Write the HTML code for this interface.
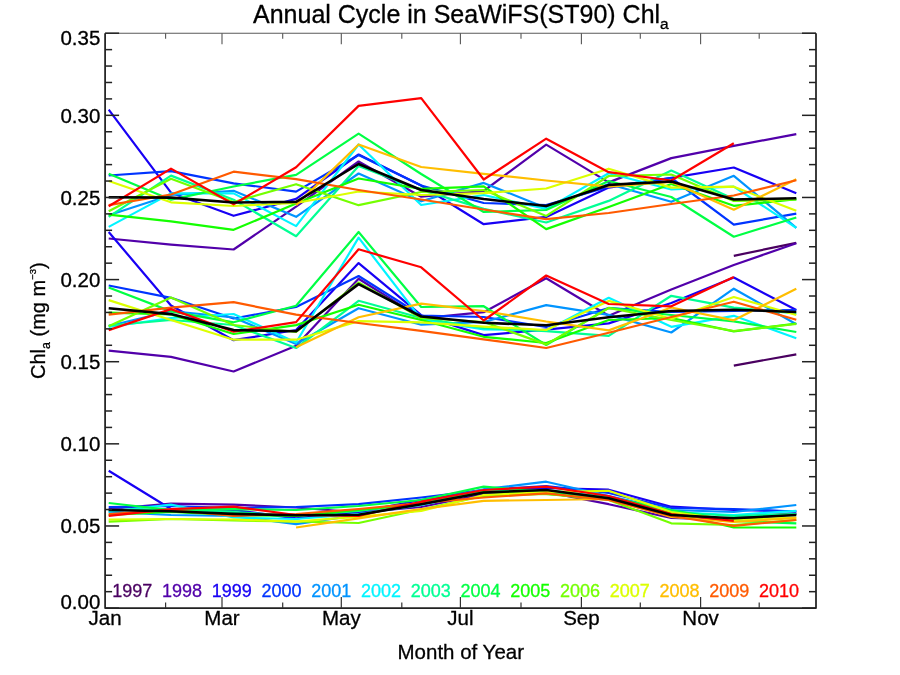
<!DOCTYPE html>
<html><head><meta charset="utf-8"><title>Annual Cycle in SeaWiFS(ST90) Chla</title>
<style>html,body{margin:0;padding:0;background:#fff;}svg{display:block;}</style></head>
<body>
<svg width="900" height="675" viewBox="0 0 900 675">
<rect width="900" height="675" fill="#fff"/>
<g fill="none" stroke-linejoin="round" stroke-linecap="butt">
<polyline points="733.8,255.8 796.3,242.8" stroke="#4a0060" stroke-width="2.2"/>
<polyline points="108.7,238.5 171.0,244.6 233.6,249.5 296.1,206.7 358.6,161.5 421.2,196.7 483.7,191.0 546.2,144.6 608.7,182.4 671.3,158.1 733.8,145.8 796.3,134.2" stroke="#5200aa" stroke-width="2.2"/>
<polyline points="108.7,109.6 171.0,192.7 233.6,215.8 296.1,198.9 358.6,154.5 421.2,185.5 483.7,224.2 546.2,216.9 608.7,187.6 671.3,177.8 733.8,167.5 796.3,193.3" stroke="#1800f4" stroke-width="2.2"/>
<polyline points="108.7,175.5 171.0,171.2 233.6,183.3 296.1,191.6 358.6,155.0 421.2,185.5 483.7,203.0 546.2,205.0 608.7,186.7 671.3,178.0 733.8,224.7 796.3,213.7" stroke="#0034ff" stroke-width="2.2"/>
<polyline points="108.7,215.2 171.0,195.0 233.6,190.8 296.1,216.8 358.6,173.5 421.2,201.3 483.7,182.9 546.2,208.0 608.7,184.0 671.3,201.8 733.8,175.8 796.3,227.8" stroke="#0094ff" stroke-width="2.2"/>
<polyline points="108.7,226.9 171.0,193.4 233.6,193.4 296.1,226.1 358.6,144.5 421.2,205.0 483.7,195.0 546.2,208.9 608.7,173.3 671.3,189.5 733.8,186.7 796.3,227.8" stroke="#00f4ff" stroke-width="2.2"/>
<polyline points="108.7,216.8 171.0,175.6 233.6,199.7 296.1,236.2 358.6,166.0 421.2,190.0 483.7,208.9 546.2,222.5 608.7,200.9 671.3,170.5 733.8,199.0 796.3,199.5" stroke="#00ff94" stroke-width="2.2"/>
<polyline points="108.7,173.7 171.0,199.7 233.6,186.5 296.1,174.9 358.6,133.6 421.2,174.0 483.7,212.0 546.2,210.0 608.7,181.0 671.3,197.0 733.8,236.7 796.3,217.5" stroke="#00ff44" stroke-width="2.2"/>
<polyline points="108.7,214.7 171.0,221.4 233.6,229.8 296.1,203.5 358.6,178.5 421.2,188.9 483.7,186.3 546.2,229.1 608.7,207.0 671.3,184.0 733.8,205.8 796.3,199.2" stroke="#14ff00" stroke-width="2.2"/>
<polyline points="108.7,211.3 171.0,178.7 233.6,202.0 296.1,184.2 358.6,205.2 421.2,192.0 483.7,190.0 546.2,215.9 608.7,176.0 671.3,174.5 733.8,201.0 796.3,199.5" stroke="#74ff00" stroke-width="2.2"/>
<polyline points="108.7,181.0 171.0,202.3 233.6,206.0 296.1,203.0 358.6,191.5 421.2,195.0 483.7,193.2 546.2,188.5 608.7,168.7 671.3,187.6 733.8,186.7 796.3,210.8" stroke="#dcff00" stroke-width="2.2"/>
<polyline points="296.1,205.1 358.6,144.5 421.2,167.0 483.7,173.9 546.2,180.5 608.7,186.7 671.3,182.0 733.8,209.7 796.3,179.2" stroke="#ffbe00" stroke-width="2.2"/>
<polyline points="108.7,205.1 171.0,194.5 233.6,171.7 296.1,179.2 358.6,190.0 421.2,199.5 483.7,209.5 546.2,219.2 608.7,213.0 671.3,204.0 733.8,195.5 796.3,180.3" stroke="#ff5a00" stroke-width="2.2"/>
<polyline points="108.7,206.3 171.0,168.6 233.6,204.3 296.1,167.2 358.6,105.9 421.2,98.1 483.7,179.5 546.2,138.7 608.7,172.2 671.3,180.5 733.8,143.3" stroke="#ff0000" stroke-width="2.2"/>
<polyline points="108.7,197.3 171.0,197.6 233.6,202.5 296.1,201.9 358.6,164.0 421.2,190.0 483.7,199.0 546.2,206.0 608.7,184.9 671.3,181.5 733.8,199.5 796.3,198.3" stroke="#000000" stroke-width="2.6"/>
<polyline points="733.8,365.6 796.3,354.3" stroke="#4a0060" stroke-width="2.2"/>
<polyline points="108.7,350.6 171.0,356.9 233.6,371.5 296.1,345.7 358.6,278.7 421.2,318.3 483.7,312.2 546.2,278.2 608.7,315.7 671.3,289.5 733.8,265.0 796.3,243.3" stroke="#5200aa" stroke-width="2.2"/>
<polyline points="108.7,232.0 171.0,305.5 233.6,340.2 296.1,330.0 358.6,263.1 421.2,315.2 483.7,335.1 546.2,329.6 608.7,323.4 671.3,303.0 733.8,277.5 796.3,310.0" stroke="#1800f4" stroke-width="2.2"/>
<polyline points="108.7,285.5 171.0,297.8 233.6,318.5 296.1,307.0 358.6,276.0 421.2,315.5 483.7,317.0 546.2,327.0 608.7,308.0 671.3,312.0 733.8,310.8 796.3,310.0" stroke="#0034ff" stroke-width="2.2"/>
<polyline points="108.7,326.0 171.0,311.0 233.6,317.5 296.1,344.0 358.6,308.2 421.2,324.7 483.7,322.0 546.2,305.1 608.7,314.9 671.3,332.5 733.8,288.7 796.3,324.2" stroke="#0094ff" stroke-width="2.2"/>
<polyline points="108.7,327.0 171.0,318.0 233.6,314.0 296.1,342.5 358.6,237.6 421.2,319.2 483.7,329.3 546.2,330.4 608.7,297.8 671.3,326.8 733.8,315.8 796.3,338.3" stroke="#00f4ff" stroke-width="2.2"/>
<polyline points="108.7,325.5 171.0,320.0 233.6,325.0 296.1,348.0 358.6,300.8 421.2,318.0 483.7,328.0 546.2,331.2 608.7,335.9 671.3,295.8 733.8,307.6 796.3,313.5" stroke="#00ff94" stroke-width="2.2"/>
<polyline points="108.7,287.5 171.0,311.4 233.6,322.3 296.1,305.8 358.6,232.0 421.2,307.0 483.7,306.2 546.2,345.0 608.7,307.9 671.3,315.0 733.8,321.3 796.3,332.0" stroke="#00ff44" stroke-width="2.2"/>
<polyline points="108.7,312.7 171.0,314.5 233.6,334.0 296.1,325.1 358.6,304.7 421.2,320.0 483.7,336.8 546.2,343.0 608.7,320.0 671.3,318.0 733.8,331.3 796.3,323.5" stroke="#14ff00" stroke-width="2.2"/>
<polyline points="108.7,326.2 171.0,297.4 233.6,325.0 296.1,332.0 358.6,282.5 421.2,318.0 483.7,322.0 546.2,344.4 608.7,308.0 671.3,320.0 733.8,331.0 796.3,324.0" stroke="#74ff00" stroke-width="2.2"/>
<polyline points="108.7,300.1 171.0,320.0 233.6,339.7 296.1,339.7 358.6,321.1 421.2,322.3 483.7,326.6 546.2,330.0 608.7,300.9 671.3,318.8 733.8,297.0 796.3,315.0" stroke="#dcff00" stroke-width="2.2"/>
<polyline points="296.1,347.2 358.6,317.2 421.2,303.6 483.7,311.0 546.2,321.5 608.7,330.4 671.3,307.5 733.8,320.3 796.3,288.7" stroke="#ffbe00" stroke-width="2.2"/>
<polyline points="108.7,314.6 171.0,307.6 233.6,302.2 296.1,314.7 358.6,323.0 421.2,330.9 483.7,339.3 546.2,348.0 608.7,332.8 671.3,317.0 733.8,301.7 796.3,319.7" stroke="#ff5a00" stroke-width="2.2"/>
<polyline points="108.7,330.1 171.0,309.1 233.6,331.7 296.1,322.1 358.6,249.3 421.2,267.3 483.7,320.5 546.2,275.5 608.7,304.0 671.3,306.3 733.8,277.0" stroke="#ff0000" stroke-width="2.2"/>
<polyline points="108.7,308.3 171.0,314.1 233.6,330.1 296.1,331.2 358.6,284.1 421.2,316.5 483.7,322.8 546.2,325.3 608.7,317.2 671.3,311.0 733.8,309.7 796.3,312.0" stroke="#000000" stroke-width="2.6"/>
<polyline points="733.8,516.7 796.3,513.7" stroke="#4a0060" stroke-width="2.2"/>
<polyline points="108.7,509.0 171.0,503.6 233.6,504.6 296.1,507.5 358.6,512.5 421.2,507.0 483.7,494.0 546.2,492.0 608.7,504.2 671.3,518.0 733.8,520.0 796.3,514.0" stroke="#5200aa" stroke-width="2.2"/>
<polyline points="108.7,470.8 171.0,509.0 233.6,510.0 296.1,518.3 358.6,512.0 421.2,500.0 483.7,490.0 546.2,488.0 608.7,489.7 671.3,506.7 733.8,510.0 796.3,511.5" stroke="#1800f4" stroke-width="2.2"/>
<polyline points="108.7,507.2 171.0,506.0 233.6,508.0 296.1,507.0 358.6,504.2 421.2,497.5 483.7,490.0 546.2,486.0 608.7,493.0 671.3,508.0 733.8,509.0 796.3,511.5" stroke="#0034ff" stroke-width="2.2"/>
<polyline points="108.7,512.0 171.0,515.0 233.6,516.0 296.1,524.2 358.6,515.0 421.2,503.0 483.7,489.2 546.2,481.7 608.7,496.0 671.3,510.0 733.8,512.0 796.3,505.0" stroke="#0094ff" stroke-width="2.2"/>
<polyline points="108.7,511.7 171.0,504.7 233.6,517.5 296.1,519.0 358.6,514.0 421.2,505.0 483.7,492.0 546.2,490.0 608.7,497.0 671.3,512.0 733.8,515.0 796.3,510.8" stroke="#00f4ff" stroke-width="2.2"/>
<polyline points="108.7,510.0 171.0,509.0 233.6,512.0 296.1,516.0 358.6,511.0 421.2,503.0 483.7,491.0 546.2,491.0 608.7,498.0 671.3,512.0 733.8,516.0 796.3,514.0" stroke="#00ff94" stroke-width="2.2"/>
<polyline points="108.7,503.0 171.0,510.0 233.6,509.2 296.1,510.0 358.6,506.0 421.2,500.0 483.7,486.7 546.2,492.0 608.7,497.0 671.3,510.0 733.8,521.0 796.3,523.3" stroke="#00ff44" stroke-width="2.2"/>
<polyline points="108.7,515.0 171.0,512.0 233.6,515.0 296.1,516.0 358.6,510.0 421.2,504.0 483.7,492.0 546.2,494.0 608.7,499.0 671.3,513.0 733.8,527.5 796.3,527.5" stroke="#14ff00" stroke-width="2.2"/>
<polyline points="108.7,521.7 171.0,519.0 233.6,520.5 296.1,521.5 358.6,523.0 421.2,509.5 483.7,496.0 546.2,494.0 608.7,500.0 671.3,523.3 733.8,525.0 796.3,520.0" stroke="#74ff00" stroke-width="2.2"/>
<polyline points="108.7,519.5 171.0,519.0 233.6,519.5 296.1,521.7 358.6,516.7 421.2,511.0 483.7,495.0 546.2,492.0 608.7,490.8 671.3,512.0 733.8,520.0 796.3,517.5" stroke="#dcff00" stroke-width="2.2"/>
<polyline points="296.1,527.5 358.6,518.3 421.2,509.0 483.7,500.8 546.2,500.0 608.7,499.0 671.3,517.0 733.8,522.0 796.3,518.0" stroke="#ffbe00" stroke-width="2.2"/>
<polyline points="108.7,514.0 171.0,510.0 233.6,515.8 296.1,514.0 358.6,509.0 421.2,503.0 483.7,497.5 546.2,493.3 608.7,500.0 671.3,516.0 733.8,525.8 796.3,520.0" stroke="#ff5a00" stroke-width="2.2"/>
<polyline points="108.7,515.8 171.0,509.2 233.6,506.7 296.1,515.0 358.6,516.0 421.2,501.7 483.7,490.0 546.2,486.7 608.7,496.0 671.3,514.0 733.8,520.8" stroke="#ff0000" stroke-width="2.2"/>
<polyline points="108.7,510.0 171.0,511.2 233.6,513.9 296.1,515.3 358.6,514.8 421.2,504.2 483.7,492.5 546.2,490.0 608.7,498.3 671.3,515.0 733.8,518.3 796.3,515.0" stroke="#000000" stroke-width="2.6"/>
</g>
<line x1="105.1" y1="33.2" x2="816.0" y2="33.2" stroke="#5a5a5a" stroke-width="1.1"/>
<path d="M105.1,33.2 L105.1,608.1 L816.0,608.1 L816.0,33.2" fill="none" stroke="#222" stroke-width="1.75" stroke-linejoin="round"/>
<line x1="105.1" y1="608.10" x2="119.1" y2="608.10" stroke="#222" stroke-width="1.5"/>
<line x1="816.0" y1="608.10" x2="802.0" y2="608.10" stroke="#222" stroke-width="1.5"/>
<line x1="105.1" y1="591.67" x2="112.1" y2="591.67" stroke="#222" stroke-width="1.5"/>
<line x1="816.0" y1="591.67" x2="809.0" y2="591.67" stroke="#222" stroke-width="1.5"/>
<line x1="105.1" y1="575.25" x2="112.1" y2="575.25" stroke="#222" stroke-width="1.5"/>
<line x1="816.0" y1="575.25" x2="809.0" y2="575.25" stroke="#222" stroke-width="1.5"/>
<line x1="105.1" y1="558.82" x2="112.1" y2="558.82" stroke="#222" stroke-width="1.5"/>
<line x1="816.0" y1="558.82" x2="809.0" y2="558.82" stroke="#222" stroke-width="1.5"/>
<line x1="105.1" y1="542.40" x2="112.1" y2="542.40" stroke="#222" stroke-width="1.5"/>
<line x1="816.0" y1="542.40" x2="809.0" y2="542.40" stroke="#222" stroke-width="1.5"/>
<line x1="105.1" y1="525.97" x2="119.1" y2="525.97" stroke="#222" stroke-width="1.5"/>
<line x1="816.0" y1="525.97" x2="802.0" y2="525.97" stroke="#222" stroke-width="1.5"/>
<line x1="105.1" y1="509.55" x2="112.1" y2="509.55" stroke="#222" stroke-width="1.5"/>
<line x1="816.0" y1="509.55" x2="809.0" y2="509.55" stroke="#222" stroke-width="1.5"/>
<line x1="105.1" y1="493.12" x2="112.1" y2="493.12" stroke="#222" stroke-width="1.5"/>
<line x1="816.0" y1="493.12" x2="809.0" y2="493.12" stroke="#222" stroke-width="1.5"/>
<line x1="105.1" y1="476.69" x2="112.1" y2="476.69" stroke="#222" stroke-width="1.5"/>
<line x1="816.0" y1="476.69" x2="809.0" y2="476.69" stroke="#222" stroke-width="1.5"/>
<line x1="105.1" y1="460.27" x2="112.1" y2="460.27" stroke="#222" stroke-width="1.5"/>
<line x1="816.0" y1="460.27" x2="809.0" y2="460.27" stroke="#222" stroke-width="1.5"/>
<line x1="105.1" y1="443.84" x2="119.1" y2="443.84" stroke="#222" stroke-width="1.5"/>
<line x1="816.0" y1="443.84" x2="802.0" y2="443.84" stroke="#222" stroke-width="1.5"/>
<line x1="105.1" y1="427.42" x2="112.1" y2="427.42" stroke="#222" stroke-width="1.5"/>
<line x1="816.0" y1="427.42" x2="809.0" y2="427.42" stroke="#222" stroke-width="1.5"/>
<line x1="105.1" y1="410.99" x2="112.1" y2="410.99" stroke="#222" stroke-width="1.5"/>
<line x1="816.0" y1="410.99" x2="809.0" y2="410.99" stroke="#222" stroke-width="1.5"/>
<line x1="105.1" y1="394.57" x2="112.1" y2="394.57" stroke="#222" stroke-width="1.5"/>
<line x1="816.0" y1="394.57" x2="809.0" y2="394.57" stroke="#222" stroke-width="1.5"/>
<line x1="105.1" y1="378.14" x2="112.1" y2="378.14" stroke="#222" stroke-width="1.5"/>
<line x1="816.0" y1="378.14" x2="809.0" y2="378.14" stroke="#222" stroke-width="1.5"/>
<line x1="105.1" y1="361.71" x2="119.1" y2="361.71" stroke="#222" stroke-width="1.5"/>
<line x1="816.0" y1="361.71" x2="802.0" y2="361.71" stroke="#222" stroke-width="1.5"/>
<line x1="105.1" y1="345.29" x2="112.1" y2="345.29" stroke="#222" stroke-width="1.5"/>
<line x1="816.0" y1="345.29" x2="809.0" y2="345.29" stroke="#222" stroke-width="1.5"/>
<line x1="105.1" y1="328.86" x2="112.1" y2="328.86" stroke="#222" stroke-width="1.5"/>
<line x1="816.0" y1="328.86" x2="809.0" y2="328.86" stroke="#222" stroke-width="1.5"/>
<line x1="105.1" y1="312.44" x2="112.1" y2="312.44" stroke="#222" stroke-width="1.5"/>
<line x1="816.0" y1="312.44" x2="809.0" y2="312.44" stroke="#222" stroke-width="1.5"/>
<line x1="105.1" y1="296.01" x2="112.1" y2="296.01" stroke="#222" stroke-width="1.5"/>
<line x1="816.0" y1="296.01" x2="809.0" y2="296.01" stroke="#222" stroke-width="1.5"/>
<line x1="105.1" y1="279.59" x2="119.1" y2="279.59" stroke="#222" stroke-width="1.5"/>
<line x1="816.0" y1="279.59" x2="802.0" y2="279.59" stroke="#222" stroke-width="1.5"/>
<line x1="105.1" y1="263.16" x2="112.1" y2="263.16" stroke="#222" stroke-width="1.5"/>
<line x1="816.0" y1="263.16" x2="809.0" y2="263.16" stroke="#222" stroke-width="1.5"/>
<line x1="105.1" y1="246.73" x2="112.1" y2="246.73" stroke="#222" stroke-width="1.5"/>
<line x1="816.0" y1="246.73" x2="809.0" y2="246.73" stroke="#222" stroke-width="1.5"/>
<line x1="105.1" y1="230.31" x2="112.1" y2="230.31" stroke="#222" stroke-width="1.5"/>
<line x1="816.0" y1="230.31" x2="809.0" y2="230.31" stroke="#222" stroke-width="1.5"/>
<line x1="105.1" y1="213.88" x2="112.1" y2="213.88" stroke="#222" stroke-width="1.5"/>
<line x1="816.0" y1="213.88" x2="809.0" y2="213.88" stroke="#222" stroke-width="1.5"/>
<line x1="105.1" y1="197.46" x2="119.1" y2="197.46" stroke="#222" stroke-width="1.5"/>
<line x1="816.0" y1="197.46" x2="802.0" y2="197.46" stroke="#222" stroke-width="1.5"/>
<line x1="105.1" y1="181.03" x2="112.1" y2="181.03" stroke="#222" stroke-width="1.5"/>
<line x1="816.0" y1="181.03" x2="809.0" y2="181.03" stroke="#222" stroke-width="1.5"/>
<line x1="105.1" y1="164.61" x2="112.1" y2="164.61" stroke="#222" stroke-width="1.5"/>
<line x1="816.0" y1="164.61" x2="809.0" y2="164.61" stroke="#222" stroke-width="1.5"/>
<line x1="105.1" y1="148.18" x2="112.1" y2="148.18" stroke="#222" stroke-width="1.5"/>
<line x1="816.0" y1="148.18" x2="809.0" y2="148.18" stroke="#222" stroke-width="1.5"/>
<line x1="105.1" y1="131.75" x2="112.1" y2="131.75" stroke="#222" stroke-width="1.5"/>
<line x1="816.0" y1="131.75" x2="809.0" y2="131.75" stroke="#222" stroke-width="1.5"/>
<line x1="105.1" y1="115.33" x2="119.1" y2="115.33" stroke="#222" stroke-width="1.5"/>
<line x1="816.0" y1="115.33" x2="802.0" y2="115.33" stroke="#222" stroke-width="1.5"/>
<line x1="105.1" y1="98.90" x2="112.1" y2="98.90" stroke="#222" stroke-width="1.5"/>
<line x1="816.0" y1="98.90" x2="809.0" y2="98.90" stroke="#222" stroke-width="1.5"/>
<line x1="105.1" y1="82.48" x2="112.1" y2="82.48" stroke="#222" stroke-width="1.5"/>
<line x1="816.0" y1="82.48" x2="809.0" y2="82.48" stroke="#222" stroke-width="1.5"/>
<line x1="105.1" y1="66.05" x2="112.1" y2="66.05" stroke="#222" stroke-width="1.5"/>
<line x1="816.0" y1="66.05" x2="809.0" y2="66.05" stroke="#222" stroke-width="1.5"/>
<line x1="105.1" y1="49.63" x2="112.1" y2="49.63" stroke="#222" stroke-width="1.5"/>
<line x1="816.0" y1="49.63" x2="809.0" y2="49.63" stroke="#222" stroke-width="1.5"/>
<line x1="105.1" y1="33.20" x2="119.1" y2="33.20" stroke="#222" stroke-width="1.5"/>
<line x1="816.0" y1="33.20" x2="802.0" y2="33.20" stroke="#222" stroke-width="1.5"/>
<line x1="165.6" y1="608.1" x2="165.6" y2="602.6" stroke="#333" stroke-width="1.2"/>
<line x1="165.6" y1="33.2" x2="165.6" y2="38.7" stroke="#555" stroke-width="1.1"/>
<line x1="222.0" y1="608.1" x2="222.0" y2="597.1" stroke="#333" stroke-width="1.2"/>
<line x1="222.0" y1="33.2" x2="222.0" y2="44.2" stroke="#555" stroke-width="1.1"/>
<line x1="282.7" y1="608.1" x2="282.7" y2="602.6" stroke="#333" stroke-width="1.2"/>
<line x1="282.7" y1="33.2" x2="282.7" y2="38.7" stroke="#555" stroke-width="1.1"/>
<line x1="341.3" y1="608.1" x2="341.3" y2="597.1" stroke="#333" stroke-width="1.2"/>
<line x1="341.3" y1="33.2" x2="341.3" y2="44.2" stroke="#555" stroke-width="1.1"/>
<line x1="401.8" y1="608.1" x2="401.8" y2="602.6" stroke="#333" stroke-width="1.2"/>
<line x1="401.8" y1="33.2" x2="401.8" y2="38.7" stroke="#555" stroke-width="1.1"/>
<line x1="460.4" y1="608.1" x2="460.4" y2="597.1" stroke="#333" stroke-width="1.2"/>
<line x1="460.4" y1="33.2" x2="460.4" y2="44.2" stroke="#555" stroke-width="1.1"/>
<line x1="521.0" y1="608.1" x2="521.0" y2="602.6" stroke="#333" stroke-width="1.2"/>
<line x1="521.0" y1="33.2" x2="521.0" y2="38.7" stroke="#555" stroke-width="1.1"/>
<line x1="581.4" y1="608.1" x2="581.4" y2="597.1" stroke="#333" stroke-width="1.2"/>
<line x1="581.4" y1="33.2" x2="581.4" y2="44.2" stroke="#555" stroke-width="1.1"/>
<line x1="640.3" y1="608.1" x2="640.3" y2="602.6" stroke="#333" stroke-width="1.2"/>
<line x1="640.3" y1="33.2" x2="640.3" y2="38.7" stroke="#555" stroke-width="1.1"/>
<line x1="700.6" y1="608.1" x2="700.6" y2="597.1" stroke="#333" stroke-width="1.2"/>
<line x1="700.6" y1="33.2" x2="700.6" y2="44.2" stroke="#555" stroke-width="1.1"/>
<line x1="759.2" y1="608.1" x2="759.2" y2="602.6" stroke="#333" stroke-width="1.2"/>
<line x1="759.2" y1="33.2" x2="759.2" y2="38.7" stroke="#555" stroke-width="1.1"/>
<g fill="#000">
<text x="253" y="23.0" font-size="25" font-family="'Liberation Sans', Arial, sans-serif" stroke="#000" stroke-width="0.3">Annual Cycle in SeaWiFS(ST90) Chl<tspan font-size="15.5" dy="6">a</tspan></text>
<text x="100.3" y="608.6" font-size="20.5" text-anchor="end" font-family="'Liberation Sans', Arial, sans-serif" stroke="#000" stroke-width="0.3">0.00</text>
<text x="100.3" y="533.4" font-size="20.5" text-anchor="end" font-family="'Liberation Sans', Arial, sans-serif" stroke="#000" stroke-width="0.3">0.05</text>
<text x="100.3" y="451.2" font-size="20.5" text-anchor="end" font-family="'Liberation Sans', Arial, sans-serif" stroke="#000" stroke-width="0.3">0.10</text>
<text x="100.3" y="369.1" font-size="20.5" text-anchor="end" font-family="'Liberation Sans', Arial, sans-serif" stroke="#000" stroke-width="0.3">0.15</text>
<text x="100.3" y="287.0" font-size="20.5" text-anchor="end" font-family="'Liberation Sans', Arial, sans-serif" stroke="#000" stroke-width="0.3">0.20</text>
<text x="100.3" y="204.9" font-size="20.5" text-anchor="end" font-family="'Liberation Sans', Arial, sans-serif" stroke="#000" stroke-width="0.3">0.25</text>
<text x="100.3" y="122.7" font-size="20.5" text-anchor="end" font-family="'Liberation Sans', Arial, sans-serif" stroke="#000" stroke-width="0.3">0.30</text>
<text x="100.3" y="45.4" font-size="20.5" text-anchor="end" font-family="'Liberation Sans', Arial, sans-serif" stroke="#000" stroke-width="0.3">0.35</text>
<text x="105.1" y="625.4" font-size="20.5" text-anchor="middle" font-family="'Liberation Sans', Arial, sans-serif" stroke="#000" stroke-width="0.3">Jan</text>
<text x="222.0" y="625.4" font-size="20.5" text-anchor="middle" font-family="'Liberation Sans', Arial, sans-serif" stroke="#000" stroke-width="0.3">Mar</text>
<text x="341.3" y="625.4" font-size="20.5" text-anchor="middle" font-family="'Liberation Sans', Arial, sans-serif" stroke="#000" stroke-width="0.3">May</text>
<text x="460.4" y="625.4" font-size="20.5" text-anchor="middle" font-family="'Liberation Sans', Arial, sans-serif" stroke="#000" stroke-width="0.3">Jul</text>
<text x="581.4" y="625.4" font-size="20.5" text-anchor="middle" font-family="'Liberation Sans', Arial, sans-serif" stroke="#000" stroke-width="0.3">Sep</text>
<text x="700.6" y="625.4" font-size="20.5" text-anchor="middle" font-family="'Liberation Sans', Arial, sans-serif" stroke="#000" stroke-width="0.3">Nov</text>
<text x="460.8" y="658.5" font-size="20.5" text-anchor="middle" font-family="'Liberation Sans', Arial, sans-serif" stroke="#000" stroke-width="0.3">Month of Year</text>
<text transform="translate(45.2,320.7) rotate(-90)" font-size="20" text-anchor="middle" font-family="'Liberation Sans', Arial, sans-serif" stroke="#000" stroke-width="0.3">Chl<tspan font-size="12.5" dy="4.8">a</tspan><tspan dy="-4.8"> (mg m</tspan><tspan font-size="9.5" dy="-8.8">−3</tspan><tspan dy="8.8">)</tspan></text>
<text x="112.25" y="597.1" font-size="18" fill="#4a0060" stroke="#4a0060" stroke-width="0.3" font-family="'Liberation Sans', Arial, sans-serif">1997</text>
<text x="162.00" y="597.1" font-size="18" fill="#5200aa" stroke="#5200aa" stroke-width="0.3" font-family="'Liberation Sans', Arial, sans-serif">1998</text>
<text x="211.75" y="597.1" font-size="18" fill="#1800f4" stroke="#1800f4" stroke-width="0.3" font-family="'Liberation Sans', Arial, sans-serif">1999</text>
<text x="261.50" y="597.1" font-size="18" fill="#0034ff" stroke="#0034ff" stroke-width="0.3" font-family="'Liberation Sans', Arial, sans-serif">2000</text>
<text x="311.25" y="597.1" font-size="18" fill="#0094ff" stroke="#0094ff" stroke-width="0.3" font-family="'Liberation Sans', Arial, sans-serif">2001</text>
<text x="361.00" y="597.1" font-size="18" fill="#00f4ff" stroke="#00f4ff" stroke-width="0.3" font-family="'Liberation Sans', Arial, sans-serif">2002</text>
<text x="410.75" y="597.1" font-size="18" fill="#00ff94" stroke="#00ff94" stroke-width="0.3" font-family="'Liberation Sans', Arial, sans-serif">2003</text>
<text x="460.50" y="597.1" font-size="18" fill="#00ff44" stroke="#00ff44" stroke-width="0.3" font-family="'Liberation Sans', Arial, sans-serif">2004</text>
<text x="510.25" y="597.1" font-size="18" fill="#14ff00" stroke="#14ff00" stroke-width="0.3" font-family="'Liberation Sans', Arial, sans-serif">2005</text>
<text x="560.00" y="597.1" font-size="18" fill="#74ff00" stroke="#74ff00" stroke-width="0.3" font-family="'Liberation Sans', Arial, sans-serif">2006</text>
<text x="609.75" y="597.1" font-size="18" fill="#dcff00" stroke="#dcff00" stroke-width="0.3" font-family="'Liberation Sans', Arial, sans-serif">2007</text>
<text x="659.50" y="597.1" font-size="18" fill="#ffbe00" stroke="#ffbe00" stroke-width="0.3" font-family="'Liberation Sans', Arial, sans-serif">2008</text>
<text x="709.25" y="597.1" font-size="18" fill="#ff5a00" stroke="#ff5a00" stroke-width="0.3" font-family="'Liberation Sans', Arial, sans-serif">2009</text>
<text x="759.00" y="597.1" font-size="18" fill="#ff0000" stroke="#ff0000" stroke-width="0.3" font-family="'Liberation Sans', Arial, sans-serif">2010</text>
</g>
</svg>
</body></html>
